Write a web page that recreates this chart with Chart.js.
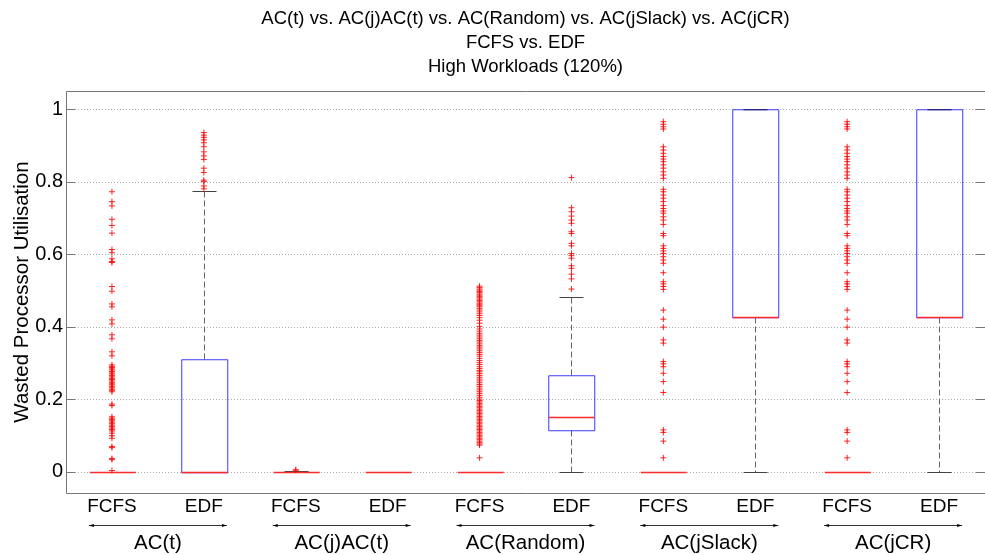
<!DOCTYPE html>
<html>
<head>
<meta charset="utf-8">
<script src="https://cdn.jsdelivr.net/npm/chart.js@4.4.0/dist/chart.umd.min.js"></script>
<style>
  html, body { margin: 0; padding: 0; background: #fff; }
  #wrap { width: 985px; height: 555px; }
</style>
</head>
<body>
<div id="wrap"><canvas id="chart" width="985" height="555"></canvas></div>
<script>
// Box labels along the x axis, and the algorithm groups (two boxes each)
const tickLabels = ['FCFS', 'EDF', 'FCFS', 'EDF', 'FCFS', 'EDF', 'FCFS', 'EDF', 'FCFS', 'EDF'];
const groupLabels = ['AC(t)', 'AC(j)AC(t)', 'AC(Random)', 'AC(jSlack)', 'AC(jCR)'];
const titleLines = [
  'AC(t) vs. AC(j)AC(t) vs. AC(Random) vs. AC(jSlack) vs. AC(jCR)',
  'FCFS vs. EDF',
  'High Workloads (120%)'
];
const yTicks = [0, 0.2, 0.4, 0.6, 0.8, 1];

// Box statistics per box, in x order
const lowerWhisker = [0, 0, 0, 0, 0, 0, 0, 0, 0, 0];
const q1 = [0, 0, 0, 0, 0, 0.115, 0, 0.427, 0, 0.427];
const median = [0, 0, 0, 0, 0, 0.151, 0, 0.427, 0, 0.427];
const q3 = [0, 0.311, 0, 0, 0, 0.266, 0, 1, 0, 1];
const upperWhisker = [0, 0.774, 0.003, 0, 0, 0.482, 0, 1, 0, 1];

// Outliers per box
const outTFcfs = [0.772, 0.745, 0.733, 0.696, 0.679, 0.658, 0.613, 0.604, 0.587, 0.580, 0.577,
  0.511, 0.498, 0.463, 0.455, 0.419, 0.408, 0.378, 0.367, 0.331, 0.320,
  0.295, 0.291, 0.288, 0.284, 0.281, 0.277, 0.273, 0.270, 0.266, 0.262, 0.258, 0.255, 0.251,
  0.247, 0.243, 0.240, 0.236, 0.232, 0.228, 0.225, 0.221, 0.187, 0.183,
  0.152, 0.148, 0.144, 0.141, 0.137, 0.133, 0.129, 0.125, 0.121, 0.117, 0.113, 0.107, 0.100, 0.093,
  0.070, 0.067, 0.037, 0.034, 0.004];
const outTEdf = [0.935, 0.928, 0.922, 0.915, 0.907, 0.896, 0.882, 0.871, 0.861, 0.837, 0.825,
  0.804, 0.800, 0.788, 0.780];
const outJAcFcfs = [0.005, 0.006];
const outJAcEdf = [];
const outRandFcfs = [0.512, 0.508, 0.504, 0.501, 0.497, 0.494, 0.490, 0.487, 0.483, 0.480, 0.476,
  0.472, 0.469, 0.465, 0.462, 0.458, 0.455, 0.450, 0.446, 0.441, 0.436, 0.431, 0.425, 0.418,
  0.410, 0.401, 0.394, 0.388, 0.382, 0.377, 0.372, 0.367, 0.362, 0.358, 0.353, 0.348, 0.344,
  0.339, 0.334, 0.329, 0.324, 0.319, 0.313, 0.307, 0.301, 0.296, 0.290, 0.285, 0.280, 0.276,
  0.271, 0.266, 0.261, 0.256, 0.251, 0.246, 0.241, 0.236, 0.231, 0.226, 0.221, 0.216, 0.211,
  0.206, 0.201, 0.197, 0.193, 0.189, 0.185, 0.181, 0.177, 0.173, 0.169, 0.165, 0.161, 0.157,
  0.153, 0.149, 0.145, 0.141, 0.137, 0.133, 0.129, 0.125, 0.121, 0.117, 0.113, 0.109, 0.105,
  0.101, 0.097, 0.093, 0.089, 0.085, 0.081, 0.077, 0.074, 0.039];
const outRandEdf = [0.811, 0.728, 0.717, 0.705, 0.694, 0.685, 0.662, 0.657, 0.630, 0.623, 0.602,
  0.596, 0.589, 0.568, 0.561, 0.545, 0.532, 0.504];
const outSlackFcfs = [0.965, 0.958, 0.951, 0.945, 0.896, 0.887, 0.878, 0.869, 0.862, 0.855, 0.846,
  0.837, 0.827, 0.818, 0.809, 0.779, 0.772, 0.763, 0.754, 0.745, 0.734, 0.726, 0.719, 0.713,
  0.703, 0.694, 0.682, 0.657, 0.651, 0.623, 0.616, 0.609, 0.602, 0.593, 0.584, 0.575, 0.549,
  0.524, 0.518, 0.511, 0.503, 0.446, 0.421, 0.399, 0.364, 0.355, 0.304, 0.298, 0.290, 0.272,
  0.249, 0.219, 0.116, 0.109, 0.085, 0.039];
const outSlackEdf = [];
const outCrFcfs = [0.965, 0.958, 0.951, 0.945, 0.896, 0.887, 0.878, 0.869, 0.862, 0.855, 0.846,
  0.837, 0.827, 0.818, 0.809, 0.779, 0.772, 0.763, 0.754, 0.745, 0.734, 0.726, 0.719, 0.713,
  0.703, 0.694, 0.682, 0.657, 0.651, 0.623, 0.616, 0.609, 0.602, 0.593, 0.584, 0.575, 0.549,
  0.524, 0.518, 0.511, 0.503, 0.446, 0.421, 0.399, 0.364, 0.355, 0.304, 0.298, 0.290, 0.272,
  0.249, 0.219, 0.116, 0.109, 0.085, 0.039];
const outCrEdf = [];

const outliers = [outTFcfs, outTEdf, outJAcFcfs, outJAcEdf, outRandFcfs, outRandEdf,
  outSlackFcfs, outSlackEdf, outCrFcfs, outCrEdf];

const FONT = '"Liberation Sans", Arial, Helvetica, sans-serif';
const FRAME = '#777';

const outlierPoints = [];
outliers.forEach((list, i) => list.forEach(v => outlierPoints.push({ x: i + 1, y: v })));

const half = v => Math.round(v) + 0.5;
// slightly off the pixel grid so thin coloured lines bleed into a second pixel
const soft = v => Math.round(v) + 0.75;

function seg(ctx, x1, y1, x2, y2) {
  ctx.beginPath();
  ctx.moveTo(x1, y1);
  ctx.lineTo(x2, y2);
  ctx.stroke();
}

// Grid, whiskers, boxes and medians under the outlier markers
const boxPlot = {
  id: 'boxPlot',
  beforeDatasetsDraw(chart) {
    const { ctx, chartArea: a, scales: { x, y } } = chart;
    const py = v => half(y.getPixelForValue(v));
    const sy = v => soft(y.getPixelForValue(v));
    ctx.save();
    ctx.lineWidth = 1;

    ctx.strokeStyle = '#aaa';
    ctx.setLineDash([1, 2]);
    yTicks.forEach(v => seg(ctx, a.left, py(v), a.right, py(v)));

    for (let i = 0; i < tickLabels.length; i++) {
      const xc = x.getPixelForValue(i + 1);
      const cx = half(xc);
      const bw = Math.round(x.getPixelForValue(1.25) - x.getPixelForValue(1));
      const cw = Math.round(bw / 2);
      const bx = soft(xc) - bw;

      ctx.lineWidth = 1;
      ctx.strokeStyle = '#666';
      ctx.setLineDash([6, 3]);
      if (upperWhisker[i] > q3[i]) seg(ctx, cx, py(q3[i]), cx, py(upperWhisker[i]));
      if (lowerWhisker[i] < q1[i]) seg(ctx, cx, py(q1[i]), cx, py(lowerWhisker[i]));
      ctx.setLineDash([]);

      ctx.strokeStyle = '#444';
      seg(ctx, cx - cw, py(upperWhisker[i]), cx + cw, py(upperWhisker[i]));
      seg(ctx, cx - cw, py(lowerWhisker[i]), cx + cw, py(lowerWhisker[i]));

      // box outline (a collapsed box is just its median line)
      if (q3[i] > q1[i]) {
        ctx.strokeStyle = '#3a3aff';
        ctx.beginPath();
        ctx.rect(bx, sy(q3[i]), bw * 2, sy(q1[i]) - sy(q3[i]));
        ctx.stroke();
        if (upperWhisker[i] === q3[i]) {
          ctx.strokeStyle = '#22226a';
          seg(ctx, cx - cw, sy(q3[i]), cx + cw, sy(q3[i]));
        }
      }

      ctx.strokeStyle = '#ff2a2a';
      ctx.lineWidth = 1.5;
      seg(ctx, bx, py(median[i]), bx + bw * 2, py(median[i]));
    }
    ctx.restore();
  },
  afterDatasetsDraw(chart) {
    const { ctx, chartArea: a, scales: { y } } = chart;
    ctx.save();
    ctx.lineWidth = 1;
    ctx.strokeStyle = FRAME;
    ctx.beginPath();
    ctx.moveTo(a.right + 2, half(a.top));
    ctx.lineTo(half(a.left), half(a.top));
    ctx.lineTo(half(a.left), half(a.bottom));
    ctx.lineTo(a.right + 2, half(a.bottom));
    ctx.stroke();
    yTicks.forEach(v => {
      const p = half(y.getPixelForValue(v));
      seg(ctx, a.left, p, a.left + 9, p);
      seg(ctx, a.right - 9, p, a.right, p);
    });
    ctx.restore();
  },
  afterDraw(chart) {
    const { ctx, chartArea: a, scales: { x } } = chart;
    const mid = (a.left + a.right) / 2;
    ctx.save();
    ctx.fillStyle = '#000';
    ctx.textAlign = 'center';
    ctx.textBaseline = 'middle';

    ctx.font = '18.5px ' + FONT;
    ctx.fillText(titleLines[0], mid, 19);
    ctx.fillText(titleLines[1], mid, 43);
    ctx.fillText(titleLines[2], mid, 67);

    ctx.font = '19px ' + FONT;
    tickLabels.forEach((t, i) => ctx.fillText(t, x.getPixelForValue(i + 1), 507));

    ctx.font = '20.5px ' + FONT;
    groupLabels.forEach((g, k) => {
      const c = (x.getPixelForValue(2 * k + 1) + x.getPixelForValue(2 * k + 2)) / 2;
      const x1 = c - 69, x2 = c + 69, ay = 525.5;
      ctx.strokeStyle = '#000';
      ctx.lineWidth = 0.8;
      seg(ctx, x1, ay, x2, ay);
      ctx.beginPath();
      ctx.moveTo(x1, ay); ctx.lineTo(x1 + 5, ay - 1.5); ctx.lineTo(x1 + 5, ay + 1.5); ctx.closePath();
      ctx.moveTo(x2, ay); ctx.lineTo(x2 - 5, ay - 1.5); ctx.lineTo(x2 - 5, ay + 1.5); ctx.closePath();
      ctx.fill();
      ctx.fillText(g, c, 543);
    });

    ctx.translate(22, (a.top + a.bottom) / 2);
    ctx.rotate(-Math.PI / 2);
    ctx.fillText('Wasted Processor Utilisation', 0, 0);
    ctx.restore();
  }
};

new Chart(document.getElementById('chart'), {
  type: 'scatter',
  data: {
    datasets: [{
      label: 'Outliers',
      data: outlierPoints,
      pointStyle: 'cross',
      radius: 3,
      borderWidth: 1,
      borderColor: 'rgba(255, 0, 0, 0.85)',
      backgroundColor: 'rgba(255, 0, 0, 0.85)'
    }]
  },
  options: {
    responsive: false,
    animation: false,
    layout: { autoPadding: false, padding: { top: 91, bottom: 62, left: 0, right: 0 } },
    plugins: { legend: { display: false }, tooltip: { enabled: false }, title: { display: false } },
    scales: {
      x: { type: 'linear', min: 0.5, max: 10.5, display: false },
      y: {
        min: -0.0579,
        max: 1.0496,
        grid: { display: false, drawTicks: false },
        border: { display: false },
        ticks: {
          padding: 3,
          color: '#000',
          font: { family: FONT, size: 20 },
          callback: v => String(Math.round(v * 10) / 10)
        },
        afterBuildTicks: axis => { axis.ticks = yTicks.map(v => ({ value: v })); },
        afterFit: axis => { axis.width = 66; }
      }
    }
  },
  plugins: [boxPlot]
});
</script>
</body>
</html>
